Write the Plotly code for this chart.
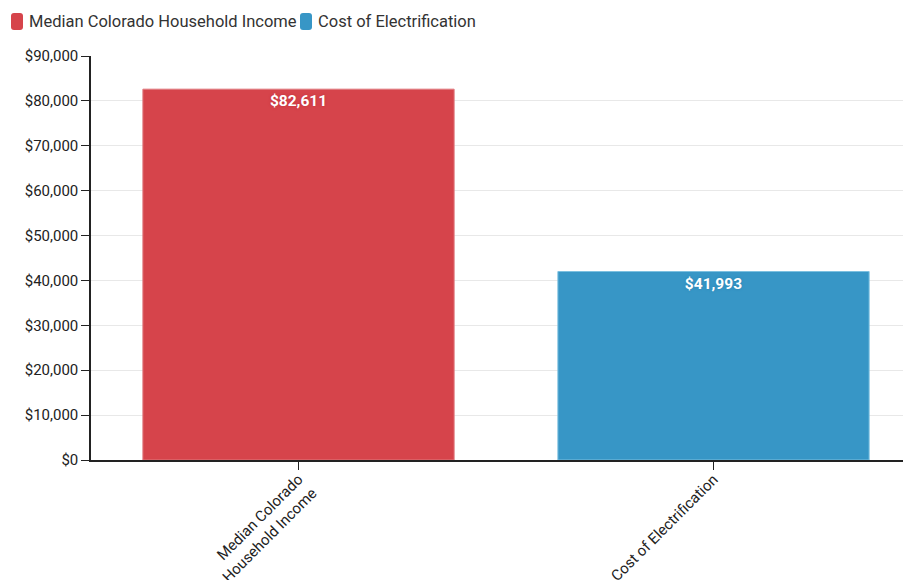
import plotly.graph_objects as go

categories = ["Median Colorado Household Income", "Cost of Electrification"]
tick_labels = ["Median Colorado<br>Household Income", "Cost of Electrification"]
values = [82611, 41993]
colors = ["#d6444b", "#3796c6"]
line_colors = ["#e07a7f", "#7cc0e0"]
shadow_colors = ["#c0303a", "#2a80b0"]

# page body has an 8px margin; compensate so the chart fills the 911x580 window
OFF = 8
W, H = 911 - OFF, 580 - OFF
ml, mr, mt, mb = 91 - OFF, 0, 56 - OFF, 120
pw, ph = W - ml - mr, H - mt - mb

fig = go.Figure()
for i, (cat, val) in enumerate(zip(categories, values)):
    fig.add_trace(go.Bar(
        x=[i], y=[val], name=cat,
        marker=dict(color=colors[i], line=dict(color=line_colors[i], width=1)),
        width=0.75,
        text=[f"${val:,}"], textposition="inside", insidetextanchor="end",
        textfont=dict(color="white", size=15.5, family="Roboto", weight="bold",
                      shadow=f"0px 0px 3px {shadow_colors[i]}"),
        hoverinfo="skip", showlegend=False,
    ))


def px_x(x):
    return (x - OFF - ml) / pw


def px_y(y):
    return (H - mb - (y - OFF)) / ph


legend_items = [(11, 27, 0), (300, 316, 1)]
for sx, tx, i in legend_items:
    r = 3
    top, bot = 13, 30
    pts = [("M", [(sx + r, top)]), ("L", [(sx + 12 - r, top)]),
           ("Q", [(sx + 12, top), (sx + 12, top + r)]), ("L", [(sx + 12, bot - r)]),
           ("Q", [(sx + 12, bot), (sx + 12 - r, bot)]), ("L", [(sx + r, bot)]),
           ("Q", [(sx, bot), (sx, bot - r)]), ("L", [(sx, top + r)]),
           ("Q", [(sx, top), (sx + r, top)])]
    path = " ".join(
        cmd + " " + " ".join(f"{px_x(a):.5f},{px_y(b):.5f}" for a, b in cs)
        for cmd, cs in pts) + " Z"
    fig.add_shape(type="path", path=path, xref="paper", yref="paper",
                  fillcolor=colors[i], line=dict(width=0), layer="above")
    fig.add_annotation(text=categories[i], x=px_x(tx), y=px_y(21.5), xref="paper",
                       yref="paper", xanchor="left", yanchor="middle", showarrow=False,
                       font=dict(size=16.5, color="#333", family="Roboto"))

fig.update_layout(
    width=W, height=H,
    margin=dict(l=ml, r=mr, t=mt, b=mb),
    paper_bgcolor="white", plot_bgcolor="white",
    font=dict(family="Roboto", color="#222", size=15),
    barmode="overlay",
    showlegend=False,
    xaxis=dict(range=[-0.5, 1.5 - 10 / 415], tickvals=[0, 1], ticktext=tick_labels,
               tickangle=-45, showline=True, linecolor="#222", linewidth=1.5,
               ticks="outside", ticklen=8, tickcolor="#222", showgrid=False,
               zeroline=False, automargin=False, tickfont=dict(size=15),
               ticklabelstandoff=-5),
    yaxis=dict(range=[0, 90000], dtick=10000, tickprefix="$", tickformat=",",
               showline=True, linecolor="#222", linewidth=1.5,
               ticks="outside", ticklen=8, tickcolor="#222",
               showgrid=True, gridcolor="#e8e8e8", zeroline=False,
               automargin=False, tickfont=dict(size=15)),
)
fig.write_html("out.html")
